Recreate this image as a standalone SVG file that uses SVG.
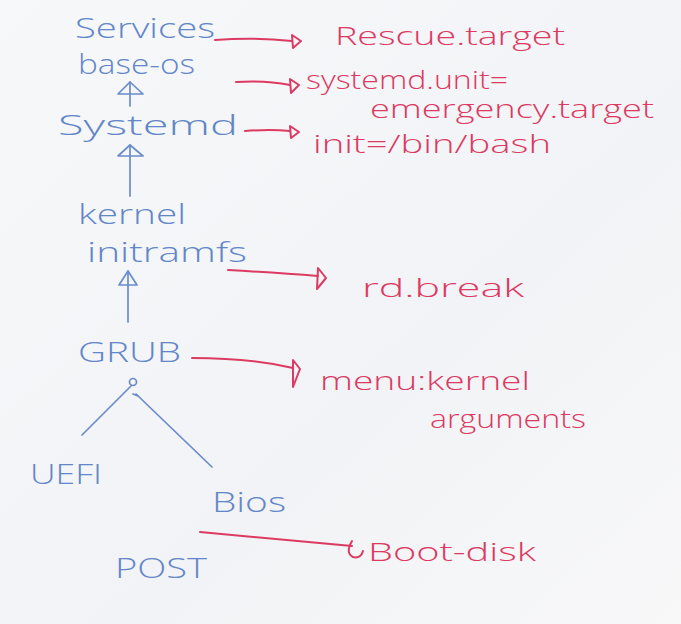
<svg xmlns="http://www.w3.org/2000/svg" width="681" height="624" viewBox="0 0 681 624">
<defs>
<linearGradient id="bg" x1="0" y1="0" x2="1" y2="1">
<stop offset="0" stop-color="#f7f8fa"/>
<stop offset="0.6" stop-color="#f2f3f6"/>
<stop offset="1" stop-color="#f8f8f9"/>
</linearGradient>
</defs>
<style>
.b{font-family:"Open Sans","Liberation Sans",sans-serif;font-weight:300;fill:#6286c8;font-size:27px}
.r{font-family:"Open Sans","Liberation Sans",sans-serif;font-weight:300;fill:#dc3a62;font-size:25px}
.bl{fill:none;stroke:#6a8ccc;stroke-width:1.7;stroke-linecap:round;stroke-linejoin:round}
.rl{fill:none;stroke:#dc3a62;stroke-width:2;stroke-linecap:round;stroke-linejoin:round}
</style>
<rect width="681" height="624" fill="url(#bg)"/>
<g id="connectors">
<line class="bl" x1="130" y1="106" x2="130" y2="82"/>
<polygon class="bl" points="130,82 118,94 143,94"/>
<line class="bl" x1="130" y1="196" x2="130" y2="145"/>
<polygon class="bl" points="130,145 118,156 143,156"/>
<line class="bl" x1="128" y1="322" x2="128" y2="271"/>
<polygon class="bl" points="128,271 119,285 137,285"/>
<circle cx="133" cy="382" r="3.5" class="bl"/>
<line class="bl" x1="131" y1="386" x2="82" y2="435"/>
<line class="bl" x1="136" y1="394" x2="212" y2="467"/>
<line class="bl" x1="133" y1="394" x2="138" y2="396"/>
<path class="rl" d="M215,40 Q255,37 292,41"/>
<polygon class="rl" points="301,41 292,35 293,48"/>
<path class="rl" d="M236,82 Q265,80 290,85"/>
<polygon class="rl" points="299,85 290,79 291,93"/>
<path class="rl" d="M245,131 Q270,129 290,131"/>
<polygon class="rl" points="299,132 290,126 291,138"/>
<path class="rl" d="M228,270 Q280,273 318,276"/>
<polygon class="rl" points="326,278 318,268 317,289"/>
<path class="rl" d="M192,358 Q250,358 293,368"/>
<polygon class="rl" points="300,369 293,360 293,387"/>
<path class="rl" d="M200,532 Q290,540 352,546"/>
<path class="rl" d="M352,541 Q345,553 353,557 Q361,559 363,551"/>
</g>
<g id="services"><text class="b" x="75" y="38" textLength="140" lengthAdjust="spacingAndGlyphs">Services</text></g>
<g id="base-os"><text class="b" x="78" y="74" textLength="117" lengthAdjust="spacingAndGlyphs">base-os</text></g>
<g id="systemd"><text class="b" x="58" y="135" textLength="180" lengthAdjust="spacingAndGlyphs">Systemd</text></g>
<g id="kernel-initramfs">
<text class="b" x="78" y="224" textLength="108" lengthAdjust="spacingAndGlyphs">kernel</text>
<text class="b" x="87" y="262" textLength="160" lengthAdjust="spacingAndGlyphs">initramfs</text>
</g>
<g id="grub"><text class="b" x="78" y="362" textLength="103" lengthAdjust="spacingAndGlyphs" font-size="31">GRUB</text></g>
<g id="uefi"><text class="b" x="30" y="484" textLength="72" lengthAdjust="spacingAndGlyphs" font-size="31">UEFI</text></g>
<g id="bios"><text class="b" x="212" y="512" textLength="74" lengthAdjust="spacingAndGlyphs" font-size="33">Bios</text></g>
<g id="post"><text class="b" x="115" y="578" textLength="92" lengthAdjust="spacingAndGlyphs" font-size="31">POST</text></g>
<g id="rescue"><text class="r" x="335" y="45" textLength="230" lengthAdjust="spacingAndGlyphs">Rescue.target</text></g>
<g id="emergency">
<text class="r" x="306" y="89" textLength="202" lengthAdjust="spacingAndGlyphs" font-size="22">systemd.unit=</text>
<text class="r" x="370" y="118" textLength="284" lengthAdjust="spacingAndGlyphs" font-size="22">emergency.target</text>
</g>
<g id="init-bash"><text class="r" x="313" y="153" textLength="238" lengthAdjust="spacingAndGlyphs" font-size="28">init=/bin/bash</text></g>
<g id="rd-break"><text class="r" x="362" y="297" textLength="162" lengthAdjust="spacingAndGlyphs">rd.break</text></g>
<g id="menu-kernel">
<text class="r" x="320" y="390" textLength="210" lengthAdjust="spacingAndGlyphs" font-size="28">menu:kernel</text>
<text class="r" x="430" y="428" textLength="156" lengthAdjust="spacingAndGlyphs">arguments</text>
</g>
<g id="boot-disk"><text class="r" x="368" y="561" textLength="168" lengthAdjust="spacingAndGlyphs" font-size="28">Boot-disk</text></g>
</svg>
